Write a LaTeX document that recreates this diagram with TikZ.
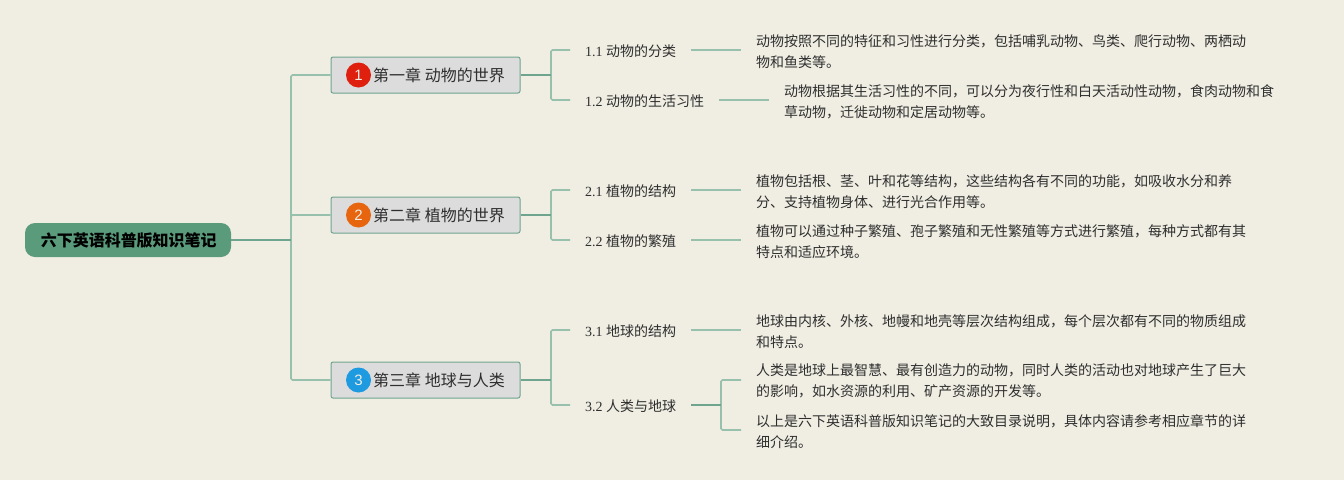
\documentclass[tikz,border=0pt]{standalone}
\usepackage{fontspec}
\setmainfont{Liberation Serif}
\setsansfont{Liberation Sans}
\newfontfamily\cjk{Noto Sans CJK SC}
\definecolor{bgc}{HTML}{F0EEE3}
\definecolor{linel}{HTML}{98C1AD}
\definecolor{lined}{HTML}{6FA58F}
\definecolor{rootf}{HTML}{5A9B7C}
\definecolor{chapf}{HTML}{DCDCDC}
\definecolor{txt}{HTML}{2E2E2E}
\definecolor{ired}{HTML}{E0200F}
\definecolor{iora}{HTML}{E8650F}
\definecolor{iblu}{HTML}{1E9AE0}
\newcommand{\subtext}[1]{\raisebox{0pt}[13pt][0pt]{#1}}
\tikzset{
  x=1pt,y=-1pt,
  conn/.style={draw=linel,line width=1.6pt,rounded corners=1.5pt},
  stem/.style={draw=lined,line width=1.8pt},
  rootnode/.style={fill=rootf,rounded corners=10pt,minimum width=206pt,minimum height=34pt,inner sep=0pt,text=black,font=\cjk\bfseries\fontsize{16}{20}\selectfont},
  chapnode/.style={fill=chapf,draw=lined,line width=1pt,rounded corners=2pt,minimum width=189pt,minimum height=36pt,inner sep=0pt,text=txt,font=\cjk\fontsize{16}{20}\selectfont},
  badge/.style={circle,minimum size=25pt,inner sep=0pt,text=bgc,font=\sffamily\fontsize{15}{18}\selectfont},
  subnode/.style={anchor=west,inner xsep=15pt,inner ysep=0pt,text=txt,font=\fontsize{14}{18}\selectfont},
  detail/.style={anchor=west,inner xsep=15pt,inner ysep=0pt,align=left,text=txt,font=\cjk\fontsize{14}{20.5}\selectfont},
}
\begin{document}
\begin{tikzpicture}
\useasboundingbox (0,0) rectangle (1344,480);
\fill[bgc] (0,0) rectangle (1344,480);
% nodes
\node[rootnode] (root) at (128,240) {\hspace*{1.5pt}六下英语科普版知识笔记};
\coordinate (j0) at (291,240);

\node[chapnode] (c1) at (425.5,75) {\hspace*{27pt}第一章 动物的世界};
\node[chapnode] (c2) at (425.5,215) {\hspace*{27pt}第二章 植物的世界};
\node[chapnode] (c3) at (425.5,380) {\hspace*{27pt}第三章 地球与人类};
\node[badge,fill=ired] (b1) at (358.5,75) {1};
\node[badge,fill=iora] (b2) at (358.5,215) {2};
\node[badge,fill=iblu] (b3) at (358.5,380) {3};

\coordinate (j1) at (551,75);
\coordinate (j2) at (551,215);
\coordinate (j3) at (551,380);

\node[subnode] (s11) at (570,50) {\subtext{1.1 {\cjk 动物的分类}}};
\node[subnode] (s12) at (570,100) {\subtext{1.2 {\cjk 动物的生活习性}}};
\node[subnode] (s21) at (570,190) {\subtext{2.1 {\cjk 植物的结构}}};
\node[subnode] (s22) at (570,240) {\subtext{2.2 {\cjk 植物的繁殖}}};
\node[subnode] (s31) at (570,330) {\subtext{3.1 {\cjk 地球的结构}}};
\node[subnode] (s32) at (570,405) {\subtext{3.2 {\cjk 人类与地球}}};

\node[detail] (d11) at (741,51.5) {动物按照不同的特征和习性进行分类，包括哺乳动物、鸟类、爬行动物、两栖动\\物和鱼类等。};
\node[detail] (d12) at (769,102) {动物根据其生活习性的不同，可以分为夜行性和白天活动性动物，食肉动物和食\\草动物，迁徙动物和定居动物等。};
\node[detail] (d21) at (741,191.5) {植物包括根、茎、叶和花等结构，这些结构各有不同的功能，如吸收水分和养\\分、支持植物身体、进行光合作用等。};
\node[detail] (d22) at (741,241.5) {植物可以通过种子繁殖、孢子繁殖和无性繁殖等方式进行繁殖，每种方式都有其\\特点和适应环境。};
\node[detail] (d31) at (741,331.5) {地球由内核、外核、地幔和地壳等层次结构组成，每个层次都有不同的物质组成\\和特点。};
\node[detail] (d321) at (741,381) {人类是地球上最智慧、最有创造力的动物，同时人类的活动也对地球产生了巨大\\的影响，如水资源的利用、矿产资源的开发等。};
\node[detail] (d322) at (741,431.5) {以上是六下英语科普版知识笔记的大致目录说明，具体内容请参考相应章节的详\\细介绍。};
\coordinate (j32) at (721,405);

% connectors
\draw[conn] (j0) |- (c1.west);
\draw[conn] (j0) |- (c2.west);
\draw[conn] (j0) |- (c3.west);
\draw[stem] (root.east) -- (j0);

\draw[conn] (j1) |- (s11.west);
\draw[conn] (j1) |- (s12.west);
\draw[stem] (c1.east) -- (j1);
\draw[conn] (j2) |- (s21.west);
\draw[conn] (j2) |- (s22.west);
\draw[stem] (c2.east) -- (j2);
\draw[conn] (j3) |- (s31.west);
\draw[conn] (j3) |- (s32.west);
\draw[stem] (c3.east) -- (j3);

\draw[conn] (s11.east) -- (s11.east -| d11.west);
\draw[conn] (s12.east) -- (s12.east -| d12.west);
\draw[conn] (s21.east) -- (s21.east -| d21.west);
\draw[conn] (s22.east) -- (s22.east -| d22.west);
\draw[conn] (s31.east) -- (s31.east -| d31.west);
\draw[conn] (j32) |- ([yshift=1pt]d321.west);
\draw[conn] (j32) |- ([yshift=1.5pt]d322.west);
\draw[stem] (s32.east) -- (j32);
\end{tikzpicture}
\end{document}
